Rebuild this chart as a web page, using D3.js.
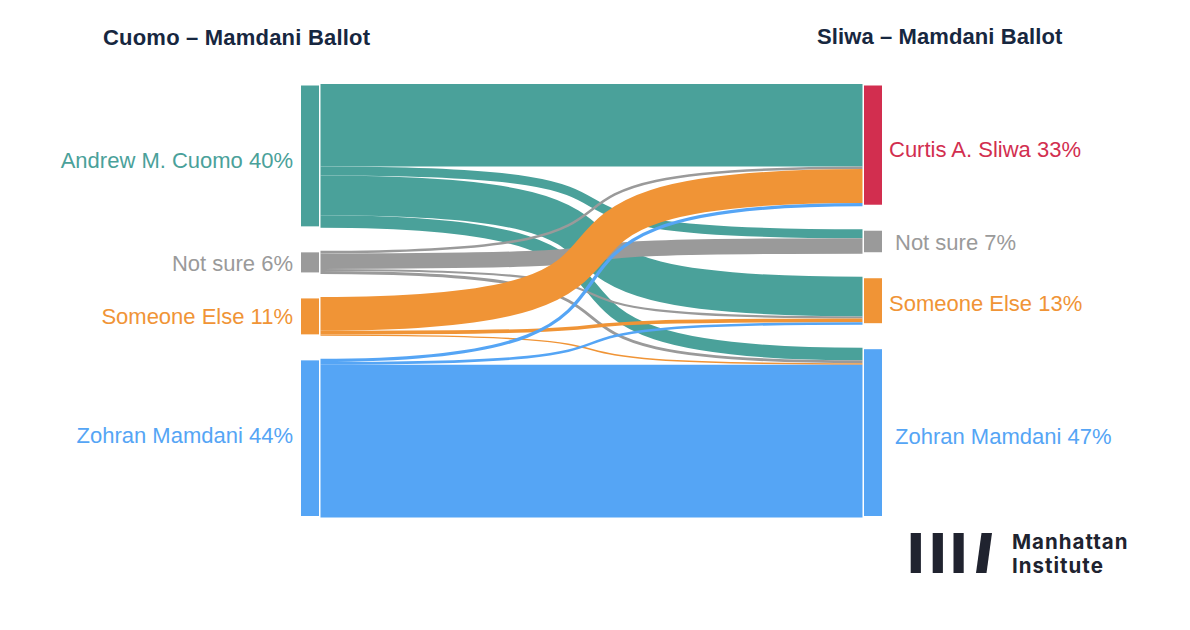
<!DOCTYPE html>
<html><head><meta charset="utf-8">
<script src="https://cdn.jsdelivr.net/npm/d3@7"></script>
<style>body{margin:0;background:#fff}</style>
</head><body><svg id="c" width="1190" height="630"></svg>
<script>
// ---- data ----
const leftNodes = ["Andrew M. Cuomo", "Not sure", "Someone Else", "Zohran Mamdani"];
const leftLabels = ["Andrew M. Cuomo 40%", "Not sure 6%", "Someone Else 11%", "Zohran Mamdani 44%"];
const rightNodes = ["Curtis A. Sliwa", "Not sure", "Someone Else", "Zohran Mamdani"];
const rightLabels = ["Curtis A. Sliwa 33%", "Not sure 7%", "Someone Else 13%", "Zohran Mamdani 47%"];
const leftColors = ["#4aa19a", "#9a9a9a", "#f09436", "#55a5f5"];
const rightColors = ["#d22e4f", "#9a9a9a", "#f09436", "#55a5f5"];
// flows: share of voters from each left choice to each right choice (Sliwa, Not sure, Someone Else, Mamdani)
const fromCuomo = [22.9, 2.5, 11.0, 3.5];
const fromNotSure = [0.7, 4.3, 0.6, 0.8];
const fromSomeoneElse = [9.4, 0, 1.0, 0.4];
const fromMamdani = [0.9, 0, 0.7, 42.4];
const titles = ["Cuomo – Mamdani Ballot", "Sliwa – Mamdani Ballot"];
const logoLines = ["Manhattan", "Institute"];

// ---- layout ----
const flows = [fromCuomo, fromNotSure, fromSomeoneElse, fromMamdani];
const leftTotals = flows.map(r => d3.sum(r));
const rightTotals = rightNodes.map((_, j) => d3.sum(flows, r => r[j]));
const total = Math.max(d3.sum(leftTotals), d3.sum(rightTotals));
const yTop = 84, yBottom = 517.5, pad = 23;
const k = d3.scaleLinear().domain([0, total]).range([0, yBottom - yTop - pad * 3]);
const xL = 301, xR = 864, nodeW = 18, linkX0 = 320.5, linkX1 = 862.5;

function stack(totals) {
  let y = yTop;
  return totals.map(t => { const n = {y0: y, y1: y + k(t)}; y = n.y1 + pad; return n; });
}
const L = stack(leftTotals), R = stack(rightTotals);

const links = [];
const rOff = R.map(n => n.y0);
flows.forEach((row, i) => {
  let sOff = L[i].y0;
  row.forEach((v, j) => {
    const w = k(v);
    if (v > 0) links.push({i, j, w, sy: sOff + w / 2, ty: rOff[j] + w / 2});
    sOff += w; rOff[j] += w;
  });
});

const svg = d3.select("#c");
svg.append("rect").attr("width", 1190).attr("height", 630).attr("fill", "#fff");

const curv = 0.8;
function linkPath(d) {
  const dx = linkX1 - linkX0;
  return `M${linkX0},${d.sy}C${linkX0 + curv * dx},${d.sy} ${linkX1 - curv * dx},${d.ty} ${linkX1},${d.ty}`;
}
svg.append("g").attr("fill", "none").selectAll("path").data(links).join("path")
  .attr("d", linkPath)
  .attr("stroke", d => leftColors[d.i])
  .attr("stroke-width", d => Math.max(1, d.w));

// nodes
svg.append("g").selectAll("rect").data(L).join("rect")
  .attr("x", xL).attr("y", d => d.y0 + 1.5).attr("width", nodeW)
  .attr("height", d => Math.max(1, d.y1 - d.y0 - 3)).attr("fill", (d, i) => leftColors[i]);
svg.append("g").selectAll("rect").data(R).join("rect")
  .attr("x", xR).attr("y", d => d.y0 + 1.5).attr("width", nodeW)
  .attr("height", d => Math.max(1, d.y1 - d.y0 - 3)).attr("fill", (d, i) => rightColors[i]);

// labels
const font = "'Liberation Sans', Arial, Helvetica, sans-serif";
const labelY = d => 300 + ((d.y0 + d.y1) / 2 - 300) * 0.975 + 8;
const rightLabelDx = [0, 6, 0, 6];
const rightLabelDy = [3, 0, 1, 2];
svg.append("g").selectAll("text").data(L).join("text")
  .attr("x", 293).attr("y", labelY)
  .attr("text-anchor", "end").attr("font-family", font).attr("font-size", 22)
  .attr("fill", (d, i) => leftColors[i]).text((d, i) => leftLabels[i]);
svg.append("g").selectAll("text").data(R).join("text")
  .attr("x", (d, i) => 889 + rightLabelDx[i]).attr("y", (d, i) => (d.y0 + d.y1) / 2 + 9 + rightLabelDy[i])
  .attr("text-anchor", "start").attr("font-family", font).attr("font-size", 22)
  .attr("fill", (d, i) => rightColors[i]).text((d, i) => rightLabels[i]);

// titles
svg.append("text").attr("x", 103).attr("y", 45).attr("font-family", font).attr("font-weight", "bold")
  .attr("font-size", 22).attr("letter-spacing", 0.2).attr("fill", "#172740").text(titles[0]);
svg.append("text").attr("x", 817).attr("y", 44).attr("font-family", font).attr("font-weight", "bold")
  .attr("font-size", 22).attr("letter-spacing", 0.1).attr("fill", "#172740").text(titles[1]);

// logo
const logo = svg.append("g").attr("fill", "#20232f");
[910.7, 932.7, 953.5].forEach(x => logo.append("rect").attr("x", x).attr("y", 533).attr("width", 10.2).attr("height", 40));
logo.append("polygon").attr("points", "981.5,533 992,533 986.5,573 976,573");
logo.selectAll("text").data(logoLines).join("text")
  .attr("x", 1012).attr("y", (d, i) => 548.7 + i * 24)
  .attr("font-family", "Inter, 'Noto Sans', sans-serif").attr("font-weight", 700)
  .attr("font-size", 20.5).attr("letter-spacing", 1.0).text(d => d);
</script></body></html>
